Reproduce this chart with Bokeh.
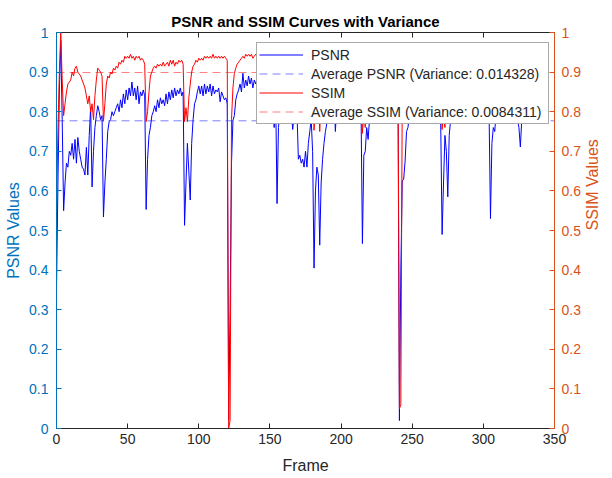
import math
from bokeh.plotting import figure
from bokeh.models import Range1d, LinearAxis, FixedTicker, Legend, LegendItem
from bokeh.embed import file_html
from bokeh.resources import INLINE

# ---------------- data ----------------
psnr = [
    0.35, 0.62, 0.85, 0.98, 0.78, 0.55, 0.62, 0.67, 0.66, 0.70,
    0.69, 0.72, 0.68, 0.73, 0.67, 0.735, 0.70, 0.68, 0.66, 0.655,
    0.64, 0.71, 0.64, 0.74, 0.81, 0.61, 0.70, 0.76, 0.79, 0.815,
    0.80, 0.78, 0.79, 0.534, 0.62, 0.68, 0.75, 0.775, 0.78, 0.80,
    0.79, 0.80, 0.81, 0.82, 0.80, 0.83, 0.81, 0.845, 0.82, 0.855,
    0.83, 0.86, 0.84, 0.875, 0.84, 0.86, 0.83, 0.865, 0.82, 0.85,
    0.84, 0.855, 0.84, 0.553, 0.68, 0.74, 0.76, 0.79, 0.80, 0.815,
    0.80, 0.83, 0.81, 0.835, 0.82, 0.83, 0.815, 0.845, 0.82, 0.85,
    0.83, 0.855, 0.835, 0.86, 0.84, 0.855, 0.845, 0.86, 0.84, 0.85,
    0.513, 0.62, 0.72, 0.65, 0.577, 0.72, 0.78, 0.82, 0.83, 0.85,
    0.865, 0.845, 0.865, 0.84, 0.87, 0.845, 0.865, 0.85, 0.87, 0.84,
    0.865, 0.845, 0.855, 0.85, 0.86, 0.825, 0.85, 0.84, 0.83, 0.835,
    0.82, 0.02, 0.30, 0.67, 0.778, 0.79, 0.83, 0.845, 0.855, 0.87,
    0.85, 0.897, 0.86, 0.88, 0.865, 0.89, 0.87, 0.885, 0.86, 0.88,
    0.87, 0.885, 0.86, 0.875, 0.865, 0.88, 0.855, 0.87, 0.86, 0.875,
    0.85, 0.865, 0.84, 0.76, 0.85, 0.568, 0.76, 0.80, 0.82, 0.84,
    0.83, 0.85, 0.84, 0.855, 0.83, 0.80, 0.755, 0.79, 0.81, 0.80,
    0.68, 0.69, 0.67, 0.68, 0.66, 0.70, 0.66, 0.72, 0.75, 0.78,
    0.70, 0.405, 0.60, 0.66, 0.64, 0.463, 0.62, 0.68, 0.72, 0.75,
    0.77, 0.79, 0.81, 0.83, 0.82, 0.84, 0.75, 0.82, 0.84, 0.855,
    0.84, 0.86, 0.845, 0.865, 0.85, 0.87, 0.855, 0.865, 0.85, 0.86,
    0.845, 0.855, 0.84, 0.85, 0.82, 0.467, 0.69, 0.70, 0.76, 0.73,
    0.78, 0.80, 0.82, 0.83, 0.845, 0.835, 0.855, 0.84, 0.86, 0.845,
    0.865, 0.85, 0.87, 0.855, 0.865, 0.85, 0.86, 0.845, 0.855, 0.84,
    0.85, 0.02, 0.40, 0.625, 0.63, 0.675, 0.75, 0.76, 0.79, 0.81,
    0.825, 0.84, 0.83, 0.85, 0.84, 0.86, 0.845, 0.865, 0.85, 0.87,
    0.855, 0.865, 0.85, 0.86, 0.845, 0.855, 0.84, 0.85, 0.83, 0.80,
    0.78, 0.49, 0.62, 0.74, 0.70, 0.585, 0.74, 0.78, 0.81, 0.83,
    0.845, 0.835, 0.855, 0.84, 0.86, 0.845, 0.865, 0.85, 0.87, 0.855,
    0.865, 0.85, 0.86, 0.845, 0.855, 0.84, 0.85, 0.835, 0.845, 0.83,
    0.84, 0.82, 0.83, 0.81, 0.80, 0.53, 0.72, 0.76, 0.75, 0.80,
    0.82, 0.835, 0.85, 0.84, 0.86, 0.845, 0.855, 0.84, 0.85, 0.835,
    0.845, 0.83, 0.82, 0.80, 0.78, 0.76, 0.711, 0.78, 0.81, 0.83,
    0.845, 0.84, 0.855, 0.85, 0.865, 0.85, 0.86, 0.845, 0.855, 0.85,
    0.86,
]

ssim = [
    0.56, 0.75, 0.90, 1.00, 0.88, 0.79, 0.82, 0.85, 0.87, 0.875,
    0.88, 0.90, 0.89, 0.91, 0.915, 0.90, 0.895, 0.89, 0.88, 0.87,
    0.86, 0.84, 0.82, 0.84, 0.80, 0.82, 0.78, 0.84, 0.88, 0.91,
    0.905, 0.90, 0.89, 0.776, 0.82, 0.87, 0.89, 0.885, 0.90, 0.895,
    0.91, 0.905, 0.915, 0.91, 0.925, 0.92, 0.93, 0.925, 0.94, 0.935,
    0.94, 0.935, 0.945, 0.935, 0.94, 0.93, 0.94, 0.935, 0.94, 0.93,
    0.935, 0.93, 0.92, 0.775, 0.80, 0.85, 0.89, 0.90, 0.91, 0.915,
    0.91, 0.92, 0.915, 0.92, 0.915, 0.925, 0.915, 0.92, 0.925, 0.915,
    0.93, 0.92, 0.93, 0.915, 0.925, 0.92, 0.93, 0.925, 0.93, 0.92,
    0.775, 0.81, 0.775, 0.835, 0.87, 0.90, 0.915, 0.92, 0.93, 0.925,
    0.935, 0.93, 0.935, 0.93, 0.94, 0.935, 0.94, 0.935, 0.94, 0.935,
    0.945, 0.935, 0.94, 0.935, 0.94, 0.935, 0.94, 0.935, 0.94, 0.935,
    0.93, 0.00, 0.02, 0.78, 0.86, 0.897, 0.91, 0.92, 0.925, 0.93,
    0.935, 0.94, 0.935, 0.945, 0.94, 0.945, 0.94, 0.945, 0.935, 0.94,
    0.945, 0.94, 0.95, 0.94, 0.945, 0.935, 0.945, 0.94, 0.945, 0.935,
    0.94, 0.935, 0.93, 0.85, 0.92, 0.80, 0.86, 0.90, 0.92, 0.93,
    0.935, 0.94, 0.935, 0.94, 0.93, 0.91, 0.87, 0.90, 0.915, 0.91,
    0.84, 0.86, 0.85, 0.86, 0.84, 0.87, 0.85, 0.88, 0.90, 0.91,
    0.88, 0.753, 0.82, 0.86, 0.85, 0.75, 0.83, 0.87, 0.90, 0.915,
    0.92, 0.93, 0.935, 0.94, 0.935, 0.94, 0.87, 0.92, 0.935, 0.94,
    0.945, 0.94, 0.945, 0.94, 0.95, 0.94, 0.945, 0.94, 0.945, 0.935,
    0.94, 0.935, 0.94, 0.93, 0.92, 0.745, 0.80, 0.76, 0.86, 0.84,
    0.89, 0.91, 0.92, 0.93, 0.935, 0.94, 0.935, 0.945, 0.94, 0.945,
    0.94, 0.95, 0.94, 0.945, 0.94, 0.945, 0.935, 0.94, 0.935, 0.94,
    0.93, 0.05, 0.06, 0.85, 0.87, 0.89, 0.91, 0.92, 0.93, 0.935,
    0.94, 0.935, 0.945, 0.94, 0.945, 0.94, 0.95, 0.94, 0.945, 0.94,
    0.945, 0.935, 0.94, 0.935, 0.94, 0.93, 0.935, 0.93, 0.92, 0.90,
    0.88, 0.755, 0.80, 0.76, 0.85, 0.82, 0.88, 0.90, 0.915, 0.925,
    0.93, 0.935, 0.94, 0.935, 0.945, 0.94, 0.945, 0.94, 0.945, 0.935,
    0.94, 0.935, 0.94, 0.93, 0.935, 0.93, 0.935, 0.925, 0.93, 0.92,
    0.925, 0.915, 0.92, 0.91, 0.90, 0.79, 0.86, 0.89, 0.88, 0.91,
    0.92, 0.93, 0.935, 0.93, 0.94, 0.935, 0.94, 0.93, 0.935, 0.925,
    0.93, 0.92, 0.915, 0.90, 0.89, 0.87, 0.82, 0.88, 0.91, 0.92,
    0.93, 0.935, 0.94, 0.935, 0.94, 0.935, 0.94, 0.93, 0.935, 0.93,
    0.935,
]

frames = list(range(len(psnr)))

avg_psnr = 0.777
avg_ssim = 0.899
var_psnr = "0.014328"
var_ssim = "0.0084311"

x_lim = (0, 350)
y_lim = (0, 1)
x_ticks = [0, 50, 100, 150, 200, 250, 300, 350]
y_ticks = [0, 0.1, 0.2, 0.3, 0.4, 0.5, 0.6, 0.7, 0.8, 0.9, 1]
y_tick_labels = ["0", "0.1", "0.2", "0.3", "0.4", "0.5", "0.6", "0.7", "0.8", "0.9", "1"]

title_text = "PSNR and SSIM Curves with Variance"

# ---------------- style ----------------
FONT = "Liberation Sans"
DARK = "#262626"
LEFT_C = "#0072BD"
RIGHT_C = "#D95319"

p = figure(width=612, height=476, x_range=Range1d(*x_lim), y_range=Range1d(*y_lim),
           output_backend="svg", toolbar_location=None, title=title_text,
           min_border_left=56, min_border_right=57, min_border_top=32, min_border_bottom=48)
p.extra_y_ranges = {"ssim": Range1d(*y_lim)}
p.grid.visible = False
p.outline_line_color = None
p.background_fill_color = "white"

p.title.text_font = FONT
p.title.text_font_size = "15px"
p.title.text_font_style = "bold"
p.title.text_color = "black"
p.title.align = "center"
p.title.standoff = 6


def style_axis(ax, color, ticks, labels=None, font_size="14px"):
    ax.ticker = FixedTicker(ticks=ticks)
    ax.minor_tick_line_color = None
    ax.major_tick_in = 5
    ax.major_tick_out = 0
    ax.axis_line_color = color
    ax.major_tick_line_color = color
    ax.major_label_text_color = color
    ax.axis_label_text_color = color
    ax.major_label_text_font = FONT
    ax.major_label_text_font_size = font_size
    ax.axis_label_text_font = FONT
    ax.axis_label_text_font_size = "16px"
    ax.axis_label_text_font_style = "normal"
    if labels is not None:
        ax.major_label_overrides = {t: l for t, l in zip(ticks, labels)}


xa = p.xaxis[0]
style_axis(xa, DARK, x_ticks)
xa.axis_label = "Frame"
xa.major_label_standoff = 5
xa.axis_label_standoff = 10

ya = p.yaxis[0]
style_axis(ya, LEFT_C, y_ticks, y_tick_labels)
ya.axis_label = "PSNR Values"
ya.major_label_standoff = 8
ya.axis_label_standoff = 4

ra = LinearAxis(y_range_name="ssim")
style_axis(ra, RIGHT_C, y_ticks, y_tick_labels)
ra.axis_label = "SSIM Values"
ra.major_label_standoff = 7
ra.axis_label_standoff = 9
try:
    ra.axis_label_orientation = math.pi / 2
except Exception:
    pass
p.add_layout(ra, "right")

ta = LinearAxis()
style_axis(ta, DARK, x_ticks, font_size="0px")
ta.major_label_standoff = 0
ta.major_label_overrides = {t: "" for t in x_ticks}
p.add_layout(ta, "above")

# ---------------- glyphs ----------------
r_psnr = p.line(frames, psnr, line_color="#0000FF", line_width=1)
r_apsnr = p.line(list(x_lim), [avg_psnr, avg_psnr], line_color="#0000FF", line_alpha=0.5,
                 line_width=1, line_dash="8 5")
r_ssim = p.line(frames, ssim, line_color="#FF0000", line_width=1, y_range_name="ssim")
r_assim = p.line(list(x_lim), [avg_ssim, avg_ssim], line_color="#FF0000", line_alpha=0.5,
                 line_width=1, line_dash="8 5", y_range_name="ssim")

p.text(x=[x_lim[1]], y=[avg_psnr], text=["Average PSNR"], text_align="right",
       text_baseline="alphabetic", x_offset=-5, y_offset=-8, text_font_size="13px",
       text_color="#0000FF", text_font={"value": FONT})
p.text(x=[x_lim[1]], y=[avg_ssim], text=["Average SSIM"], text_align="right",
       text_baseline="alphabetic", x_offset=-5, y_offset=-8, text_font_size="13px",
       text_color="#FF0000", text_font={"value": FONT}, y_range_name="ssim")

legend = Legend(items=[
    LegendItem(label="PSNR", renderers=[r_psnr]),
    LegendItem(label=f"Average PSNR (Variance: {var_psnr})", renderers=[r_apsnr]),
    LegendItem(label="SSIM", renderers=[r_ssim]),
    LegendItem(label=f"Average SSIM (Variance: {var_ssim})", renderers=[r_assim]),
], location=(200, 304))
legend.label_text_font = FONT
legend.label_text_font_size = "14px"
legend.label_text_color = DARK
legend.glyph_width = 44
legend.glyph_height = 19
legend.label_height = 19
legend.label_width = 235
legend.spacing = 0
legend.padding = 2
legend.margin = 0
legend.label_standoff = 8
legend.border_line_color = "#555555"
legend.border_line_width = 1
legend.background_fill_color = "white"
legend.background_fill_alpha = 1.0
p.add_layout(legend, "center")

open("out.html", "w").write(file_html(p, INLINE))
